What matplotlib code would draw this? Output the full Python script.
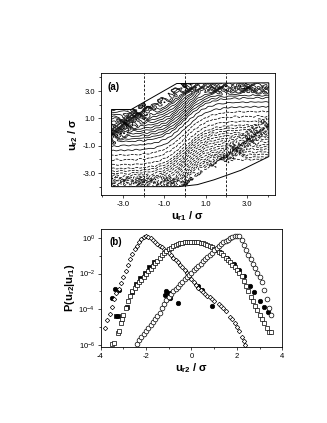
import numpy as np
import matplotlib
matplotlib.use('Agg')
import matplotlib.pyplot as plt
from matplotlib.patches import Polygon
from matplotlib.ticker import MultipleLocator, FixedLocator, NullFormatter

plt.rcParams['font.family'] = ['Liberation Sans', 'DejaVu Sans']
plt.rcParams['mathtext.default'] = 'regular'

# ---------------- panel (a) : contour model parameters ----------------
cond_points = [-2.0, 0.0, 2.0]             # dashed conditioning lines u_r1
s_amp = 1.6                                # S-shape amplitude of level curves
s_width = 1.1                              # S-shape width
outer_levels_lo = [-3.6, -3.42, -3.24, -3.06, -2.88, -2.7, -2.52, -2.34, -2.16, -1.98,
                   -1.8, -1.62, -1.44, -1.26, -1.08]
inner_levels = [-0.8, -0.45, -0.1, 0.25, 0.6]
outer_levels_hi = [0.9, 1.08, 1.26, 1.44, 1.62, 1.8, 1.98, 2.16, 2.34, 2.52, 2.7,
                   2.88, 3.06, 3.24, 3.42]
region_x = [-3.55, -3.55, -2.6, -0.4, 4.05, 4.05, 2.7, 1.4, 0.6, -0.3]
region_y = [-4.0, 1.65, 1.65, 3.55, 3.6, -1.8, -2.8, -3.5, -3.85, -4.0]

# ---------------- panel (b) : conditional pdfs (log10 values) ----------------
diam_x = [-3.8, -3.7, -3.6, -3.5, -3.4, -3.3, -3.2, -3.1, -3.0, -2.9, -2.8, -2.7, -2.6, -2.5,
          -2.4, -2.3, -2.2, -2.1, -2.0, -1.9, -1.8, -1.7, -1.6, -1.5, -1.4, -1.3, -1.2, -1.1,
          -1.0, -0.9, -0.8, -0.7, -0.6, -0.5, -0.4, -0.3, -0.2, -0.1, 0.0, 0.1, 0.2, 0.3, 0.4,
          0.5, 0.6, 0.7, 0.8, 0.9, 1.0, 1.2, 1.3, 1.4, 1.5, 1.7, 1.8, 1.9, 2.0, 2.1, 2.2, 2.3, 2.35]
diam_log = [-5.05, -4.6, -4.25, -3.85, -3.45, -3.1, -2.85, -2.55, -2.2, -1.85, -1.5, -1.2, -0.9,
            -0.65, -0.45, -0.25, -0.08, 0.05, 0.12, 0.06, -0.02, -0.12, -0.22, -0.33, -0.43,
            -0.53, -0.63, -0.74, -0.86, -0.98, -1.1, -1.22, -1.36, -1.5, -1.64, -1.8, -1.96,
            -2.12, -2.3, -2.5, -2.66, -2.82, -2.95, -3.06, -3.15, -3.25, -3.33, -3.42, -3.52,
            -3.72, -3.8, -3.95, -4.1, -4.45, -4.55, -4.75, -5.0, -5.2, -5.55, -5.8, -6.0]

circ_x = [-2.4, -2.3, -2.2, -2.1, -2.0, -1.9, -1.8, -1.7, -1.6, -1.5, -1.4, -1.3, -1.2, -1.1,
          -1.0, -0.9, -0.8, -0.7, -0.6, -0.5, -0.4, -0.3, -0.2, -0.1, 0.0, 0.1, 0.2, 0.3, 0.4,
          0.5, 0.6, 0.7, 0.8, 0.9, 1.0, 1.1, 1.2, 1.3, 1.4, 1.5, 1.6, 1.7, 1.8, 1.9, 2.0, 2.1,
          2.2, 2.3, 2.4, 2.5, 2.6, 2.7, 2.8, 2.9, 3.0, 3.1, 3.2, 3.3, 3.4, 3.5]
circ_log = [-5.95, -5.75, -5.55, -5.4, -5.25, -5.05, -4.9, -4.72, -4.57, -4.4, -4.2, -3.95,
            -3.7, -3.48, -3.3, -3.15, -3.0, -2.88, -2.75, -2.6, -2.47, -2.33, -2.2, -2.07,
            -1.95, -1.82, -1.7, -1.57, -1.45, -1.32, -1.2, -1.07, -0.95, -0.82, -0.7, -0.57,
            -0.45, -0.35, -0.25, -0.17, -0.1, -0.03, 0.03, 0.08, 0.11, 0.12, -0.1, -0.4, -0.7,
            -0.95, -1.2, -1.45, -1.7, -1.95, -2.2, -2.5, -2.95, -3.4, -3.95, -4.35]

sq_x = [-3.48, -3.42, -3.25, -3.2, -3.1, -3.05, -3.0, -2.9, -2.8, -2.7, -2.6, -2.5, -2.4, -2.3,
        -2.2, -2.1, -2.0, -1.9, -1.8, -1.7, -1.6, -1.5, -1.4, -1.3, -1.2, -1.1, -1.0, -0.9,
        -0.8, -0.7, -0.6, -0.5, -0.4, -0.3, -0.2, -0.1, 0.0, 0.1, 0.2, 0.3, 0.4, 0.5, 0.6,
        0.7, 0.8, 0.9, 1.0, 1.1, 1.2, 1.3, 1.4, 1.5, 1.6, 1.7, 1.8, 1.9, 2.0, 2.1, 2.2, 2.3,
        2.4, 2.5, 2.6, 2.7, 2.8, 2.9, 3.0, 3.1, 3.2, 3.3, 3.42, 3.5]
sq_log = [-5.95, -5.9, -5.35, -5.2, -4.8, -4.55, -4.35, -3.95, -3.55, -3.25, -3.0, -2.8, -2.62,
          -2.5, -2.35, -2.18, -2.02, -1.88, -1.74, -1.58, -1.42, -1.27, -1.12, -0.98, -0.85,
          -0.74, -0.64, -0.55, -0.47, -0.4, -0.34, -0.3, -0.27, -0.25, -0.24, -0.23, -0.23,
          -0.23, -0.24, -0.25, -0.27, -0.3, -0.34, -0.39, -0.45, -0.52, -0.6, -0.68, -0.77,
          -0.87, -0.98, -1.1, -1.22, -1.36, -1.5, -1.65, -1.8, -1.97, -2.15, -2.4, -2.7, -3.0,
          -3.3, -3.55, -3.8, -4.05, -4.3, -4.55, -4.8, -5.05, -5.3, -5.3]

fsq_x = [-3.3, -3.22, -2.85, -2.6, -2.45, -2.25, -2.05, -1.85, -1.65]
fsq_log = [-4.4, -4.4, -3.85, -3.05, -2.6, -2.25, -1.95, -1.62, -1.35]

fci_x = [1.25, 1.55, 1.85, 2.1, 2.3, 2.57, 2.75, 3.0, 3.2, 3.38,
         -1.15, -1.1, -1.0, -0.95, -0.58, 0.3, 0.45, 0.89, -3.35, -3.2, -3.5]
fci_log = [-0.8, -1.1, -1.45, -1.8, -2.15, -2.7, -3.05, -3.55, -3.85, -4.15,
           -3.2, -3.0, -3.1, -3.35, -3.64, -2.7, -2.95, -3.83, -2.85, -2.9, -3.35]

# =====================================================================
fig = plt.figure(figsize=(3.27, 4.23), dpi=100)

lab_kw = dict(fontsize=8, fontweight='bold')
tick_fs = 5.5


def style(ax):
    for s in ax.spines.values():
        s.set_linewidth(0.6)
    ax.tick_params(which='both', direction='out', width=0.5, labelsize=tick_fs, pad=1.5)
    ax.tick_params(which='major', length=2.5)
    ax.tick_params(which='minor', length=1.5)


# ---------------- (a) ----------------
axa = fig.add_axes([101 / 327, 1 - 195 / 423, 174 / 327, 122 / 423])
xg = np.linspace(-4.1, 4.4, 500)
yg = np.linspace(-4.6, 4.3, 500)
X, Y = np.meshgrid(xg, yg)
F = Y - s_amp * np.tanh(X / s_width)
# noisy regions: two diagonal bands and the top / bottom edges
d1 = ((X + 3.2) * 3.0 - (Y - 0.2) * 2.4) / np.hypot(3.0, 2.4)
d2 = ((X - 0.8) * 3.1 - (Y + 3.4) * 2.5) / np.hypot(3.1, 2.5)
band = (np.exp(-(d1 / 0.5) ** 2) + np.exp(-(d2 / 0.45) ** 2)
        + 0.8 * np.exp(-((Y - 3.2) / 0.35) ** 2) * (X > -1.0)
        + 0.8 * np.exp(-((Y + 3.6) / 0.35) ** 2) * (X < 1.0))
ripple = (np.sin(5.3 * X + 1.1) * np.sin(4.7 * Y + 0.3)
          + 0.7 * np.sin(9.1 * X + 2.0) * np.sin(8.3 * Y + 1.3)
          + 0.5 * np.sin(13.7 * X + 0.5) * np.sin(12.1 * Y + 2.2)
          + 0.4 * np.sin(19.3 * X + 1.7) * np.sin(17.9 * Y + 0.4))
wobble = (0.04 * np.sin(11 * X + 3 * Y) * np.sin(7 * Y)
          + 0.03 * np.sin(17 * X + 1.0) * np.cos(5 * Y + 0.7))
F = F + 0.45 * ripple * band + wobble
levels = outer_levels_lo + inner_levels + outer_levels_hi
cs = axa.contour(X, Y, F, levels=levels, colors='k', linewidths=0.55)
clip = Polygon(np.column_stack([region_x, region_y]), closed=True,
               transform=axa.transData, facecolor='none', edgecolor='none')
axa.add_patch(clip)
cs.set_clip_path(clip)
axa.add_patch(Polygon(np.column_stack([region_x, region_y]), closed=True,
                      facecolor='none', edgecolor='k', linewidth=0.7))
for cx in cond_points:
    axa.axvline(cx, color='k', lw=0.6, ls=(0, (3, 2)))
axa.set_xlim(-4.06, 4.35)
axa.set_ylim(-4.61, 4.32)
axa.xaxis.set_major_locator(FixedLocator([-3, -1, 1, 3]))
axa.yaxis.set_major_locator(FixedLocator([-3, -1, 1, 3]))
axa.xaxis.set_minor_locator(FixedLocator([-4, -2, 0, 2, 4]))
axa.yaxis.set_minor_locator(FixedLocator([-4, -2, 0, 2, 4]))
axa.xaxis.set_major_formatter(lambda v, p: f'{v:.1f}')
axa.yaxis.set_major_formatter(lambda v, p: f'{v:.1f}')
style(axa)
axa.set_xlabel('u$_{r1}$ / σ', labelpad=1, **lab_kw)
axa.set_ylabel('u$_{r2}$ / σ', labelpad=2, **lab_kw)
axa.text(0.04, 0.93, '(a)', transform=axa.transAxes, fontsize=7, fontweight='bold',
         va='top', ha='left')

# ---------------- (b) ----------------
axb = fig.add_axes([100.5 / 327, 1 - 347 / 423, 182 / 327, 118 / 423])
mk = dict(ls='none', mew=0.5)
axb.plot(fsq_x, 10 ** np.array(fsq_log), marker='s', ms=3.0, mfc='k', mec='k', **mk)
axb.plot(fci_x, 10 ** np.array(fci_log), marker='o', ms=3.2, mfc='k', mec='k', **mk)
axb.plot(diam_x, 10 ** np.array(diam_log), marker='D', ms=2.3, mfc='white', mec='k', **mk)
axb.plot(sq_x, 10 ** np.array(sq_log), marker='s', ms=3.0, mfc='white', mec='k', **mk)
axb.plot(circ_x, 10 ** np.array(circ_log), marker='o', ms=3.4, mfc='white', mec='k', **mk)
axb.set_yscale('log')
axb.set_xlim(-4, 4)
axb.set_ylim(10 ** -6.12, 10 ** 0.5)
axb.xaxis.set_major_locator(MultipleLocator(2))
axb.xaxis.set_minor_locator(MultipleLocator(1))
axb.yaxis.set_major_locator(FixedLocator([1e-6, 1e-4, 1e-2, 1e0]))
axb.yaxis.set_minor_locator(FixedLocator([1e-5, 1e-3, 1e-1]))
axb.yaxis.set_minor_formatter(NullFormatter())
axb.yaxis.set_major_formatter(lambda v, p: '10$^{%d}$' % round(np.log10(v)))
axb.xaxis.set_major_formatter(lambda v, p: f'{v:.0f}')
style(axb)
axb.set_xlabel('u$_{r2}$ / σ', labelpad=1, **lab_kw)
axb.set_ylabel('P(u$_{r2}$|u$_{r1}$)', labelpad=1, **lab_kw)
axb.text(0.05, 0.93, '(b)', transform=axb.transAxes, fontsize=7, fontweight='bold',
         va='top', ha='left')

fig.savefig('out.png', dpi=100)
